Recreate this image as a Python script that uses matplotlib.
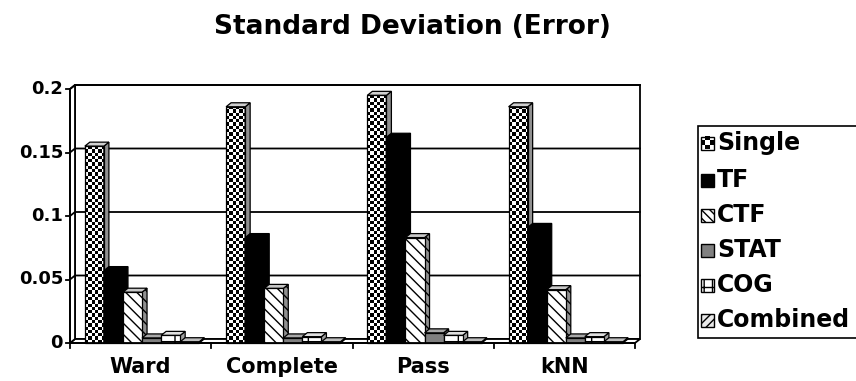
import numpy as np
import matplotlib
matplotlib.use("Agg")
import matplotlib.pyplot as plt
from matplotlib.patches import Polygon, Rectangle

plt.rcParams['font.family'] = ['DejaVu Sans']
plt.rcParams['font.weight'] = 'bold'

categories = ["Ward", "Complete", "Pass", "kNN"]
series_names = ["Single", "TF", "CTF", "STAT", "COG", "Combined"]
single = [0.155, 0.186, 0.195, 0.186]
tf = [0.057, 0.083, 0.162, 0.091]
ctf = [0.040, 0.043, 0.083, 0.042]
stat = [0.004, 0.004, 0.008, 0.004]
cog = [0.006, 0.005, 0.006, 0.005]
combined = [0.001, 0.001, 0.001, 0.001]
series_values = [single, tf, ctf, stat, cog, combined]
y_ticks = [0, 0.05, 0.1, 0.15, 0.2]
y_tick_labels = ["0", "0.05", "0.1", "0.15", "0.2"]

W, H = 856, 381
fig = plt.figure(figsize=(W / 100, H / 100), dpi=100)
fig.patch.set_facecolor("white")

# front plane of the 3D box in pixels
fx0, fx1, fy0, fy1 = 70, 635, 343, 89
ax = fig.add_axes([fx0 / W, 1 - fy0 / H, (fx1 - fx0) / W, (fy0 - fy1) / H])
ax.set_xlim(0, 4)
ax.set_ylim(0, 0.2)
ax.axis("off")

px_x = 4 / (fx1 - fx0)       # data per pixel (x)
px_y = 0.2 / (fy0 - fy1)     # data per pixel (y)
dx, dy = 5 * px_x, 4 * px_y  # depth offset

lw = 1.3
# back wall, floor and side wall
ax.add_patch(Polygon([(dx, dy), (4 + dx, dy), (4 + dx, 0.2 + dy), (dx, 0.2 + dy)],
                     closed=True, fc="white", ec="black", lw=lw, clip_on=False, zorder=1))
ax.add_patch(Polygon([(0, 0), (4, 0), (4 + dx, dy), (dx, dy)],
                     closed=True, fc="white", ec="black", lw=lw, clip_on=False, zorder=1))
ax.add_patch(Polygon([(0, 0), (dx, dy), (dx, 0.2 + dy), (0, 0.2)],
                     closed=True, fc="white", ec="black", lw=lw, clip_on=False, zorder=1))
for v in y_ticks[1:]:
    ax.plot([0, dx, 4 + dx], [v, v + dy, v + dy], color="black", lw=lw, clip_on=False, zorder=1.5)

# front axes with ticks
ax.plot([0, 0], [0, 0.2], color="black", lw=lw, clip_on=False, zorder=50)
ax.plot([0, 4], [0, 0], color="black", lw=lw, clip_on=False, zorder=50)
for v, lab in zip(y_ticks, y_tick_labels):
    ax.plot([-4 * px_x, 0], [v, v], color="black", lw=lw, clip_on=False, zorder=50)
    ax.text(-7 * px_x, v, lab, ha="right", va="center", fontsize=13, fontweight="bold")
for i in range(5):
    ax.plot([i, i], [0, -5 * px_y], color="black", lw=lw, clip_on=False, zorder=50)
for i, c in enumerate(categories):
    ax.text(i + 0.5, -24 * px_y, c, ha="center", va="center", fontsize=15, fontweight="bold")

bar_w = 0.135
start = 0.105
cell = 3.3  # checker cell size in pixels


def checker(nr, nc, light=1.0, dark=0.0):
    a = (np.add.outer(np.arange(nr), np.arange(nc)) % 2).astype(float)
    return np.where(a == 1, dark, light)


def draw_bar(x0, h, kind, z):
    x1 = x0 + bar_w
    front = Rectangle((x0, 0), bar_w, h, clip_on=False, zorder=z)
    top = Polygon([(x0, h), (x1, h), (x1 + dx, h + dy), (x0 + dx, h + dy)],
                  closed=True, clip_on=False, zorder=z)
    side = Polygon([(x1, 0), (x1 + dx, dy), (x1 + dx, h + dy), (x1, h)],
                   closed=True, clip_on=False, zorder=z)
    for p in (front, top, side):
        p.set_edgecolor("black")
        p.set_linewidth(0.9)
    if kind == "Single":
        front.set_facecolor("none")
        top.set_facecolor("#d0d0d0")
        side.set_facecolor("#909090")
        nr = max(1, int(round(h / px_y / cell)))
        nc = 6
        ax.imshow(checker(nr, nc), extent=[x0, x1, 0, h], cmap="gray", vmin=0, vmax=1,
                  aspect="auto", interpolation="nearest", zorder=z, clip_on=False)
        sim = ax.imshow(checker(nr, 2, light=0.6, dark=0.1), extent=[x1, x1 + dx, 0, h + dy],
                        cmap="gray", vmin=0, vmax=1, aspect="auto",
                        interpolation="nearest", zorder=z)
        sim.set_clip_path(side)
    elif kind == "TF":
        for p in (front, top, side):
            p.set_facecolor("black")
    elif kind == "CTF":
        front.set_facecolor("white")
        front.set_hatch("\\\\\\")
        top.set_facecolor("#c8c8c8")
        side.set_facecolor("#909090")
        side.set_hatch("\\\\\\")
    elif kind == "STAT":
        front.set_facecolor("#808080")
        top.set_facecolor("#a8a8a8")
        side.set_facecolor("#606060")
    elif kind == "COG":
        front.set_facecolor("white")
        front.set_hatch("+")
        top.set_facecolor("#e0e0e0")
        side.set_facecolor("#a0a0a0")
    else:
        front.set_facecolor("#e8e8e8")
        top.set_facecolor("#bdbdbd")
        side.set_facecolor("#909090")
    ax.add_patch(side)
    ax.add_patch(top)
    ax.add_patch(front)
    if kind == "Single":
        front.set_zorder(z + 0.1)


z = 10
for ci in range(len(categories)):
    for si, name in enumerate(series_names):
        x0 = ci + start + si * bar_w
        draw_bar(x0, series_values[si][ci], name, z)
        z += 1

ax.set_xlim(0, 4)
ax.set_ylim(0, 0.2)

# title
fig.text(412 / W, 1 - 27 / H, "Standard Deviation (Error)", ha="center", va="center",
         fontsize=19, fontweight="bold")

# legend box
lx0, ly0, lx1, ly1 = 697, 125, 880, 338
lax = fig.add_axes([lx0 / W, 1 - ly1 / H, (lx1 - lx0) / W, (ly1 - ly0) / H])
lax.set_xlim(0, lx1 - lx0)
lax.set_ylim(ly1 - ly0, 0)
lax.axis("off")
lax.add_patch(Rectangle((0.5, 0.5), lx1 - lx0 - 1, ly1 - ly0 - 1, fc="white", ec="black",
                        lw=1.2, clip_on=False))
row_y = [143, 180, 215, 250, 285, 320]
for si, name in enumerate(series_names):
    yc = row_y[si] - ly0
    mx, ms = 4, 13
    if name == "Single":
        lax.imshow(checker(3, 3, light=1.0, dark=0.0), extent=[mx, mx + ms, yc + ms / 2, yc - ms / 2],
                   cmap="gray", vmin=0, vmax=1, aspect="auto", interpolation="nearest", zorder=3)
        box = Rectangle((mx, yc - ms / 2), ms, ms, fc="none", ec="black", lw=1.0, zorder=4)
    elif name == "TF":
        box = Rectangle((mx, yc - ms / 2), ms, ms, fc="black", ec="black", lw=1.0, zorder=4)
    elif name == "CTF":
        box = Rectangle((mx, yc - ms / 2), ms, ms, fc="white", ec="black", lw=1.0,
                        hatch="\\\\\\\\", zorder=4)
    elif name == "STAT":
        box = Rectangle((mx, yc - ms / 2), ms, ms, fc="#808080", ec="black", lw=1.0, zorder=4)
    elif name == "COG":
        box = Rectangle((mx, yc - ms / 2), ms, ms, fc="white", ec="black", lw=1.0,
                        hatch="++", zorder=4)
    else:
        box = Rectangle((mx, yc - ms / 2), ms, ms, fc="#e8e8e8", ec="black", lw=1.0,
                        hatch="////", zorder=4)
    lax.add_patch(box)
    lax.text(mx + ms + 3, yc, name, ha="left", va="center", fontsize=17, fontweight="bold")
lax.set_xlim(0, lx1 - lx0)
lax.set_ylim(ly1 - ly0, 0)

fig.savefig("out.png", dpi=100)
